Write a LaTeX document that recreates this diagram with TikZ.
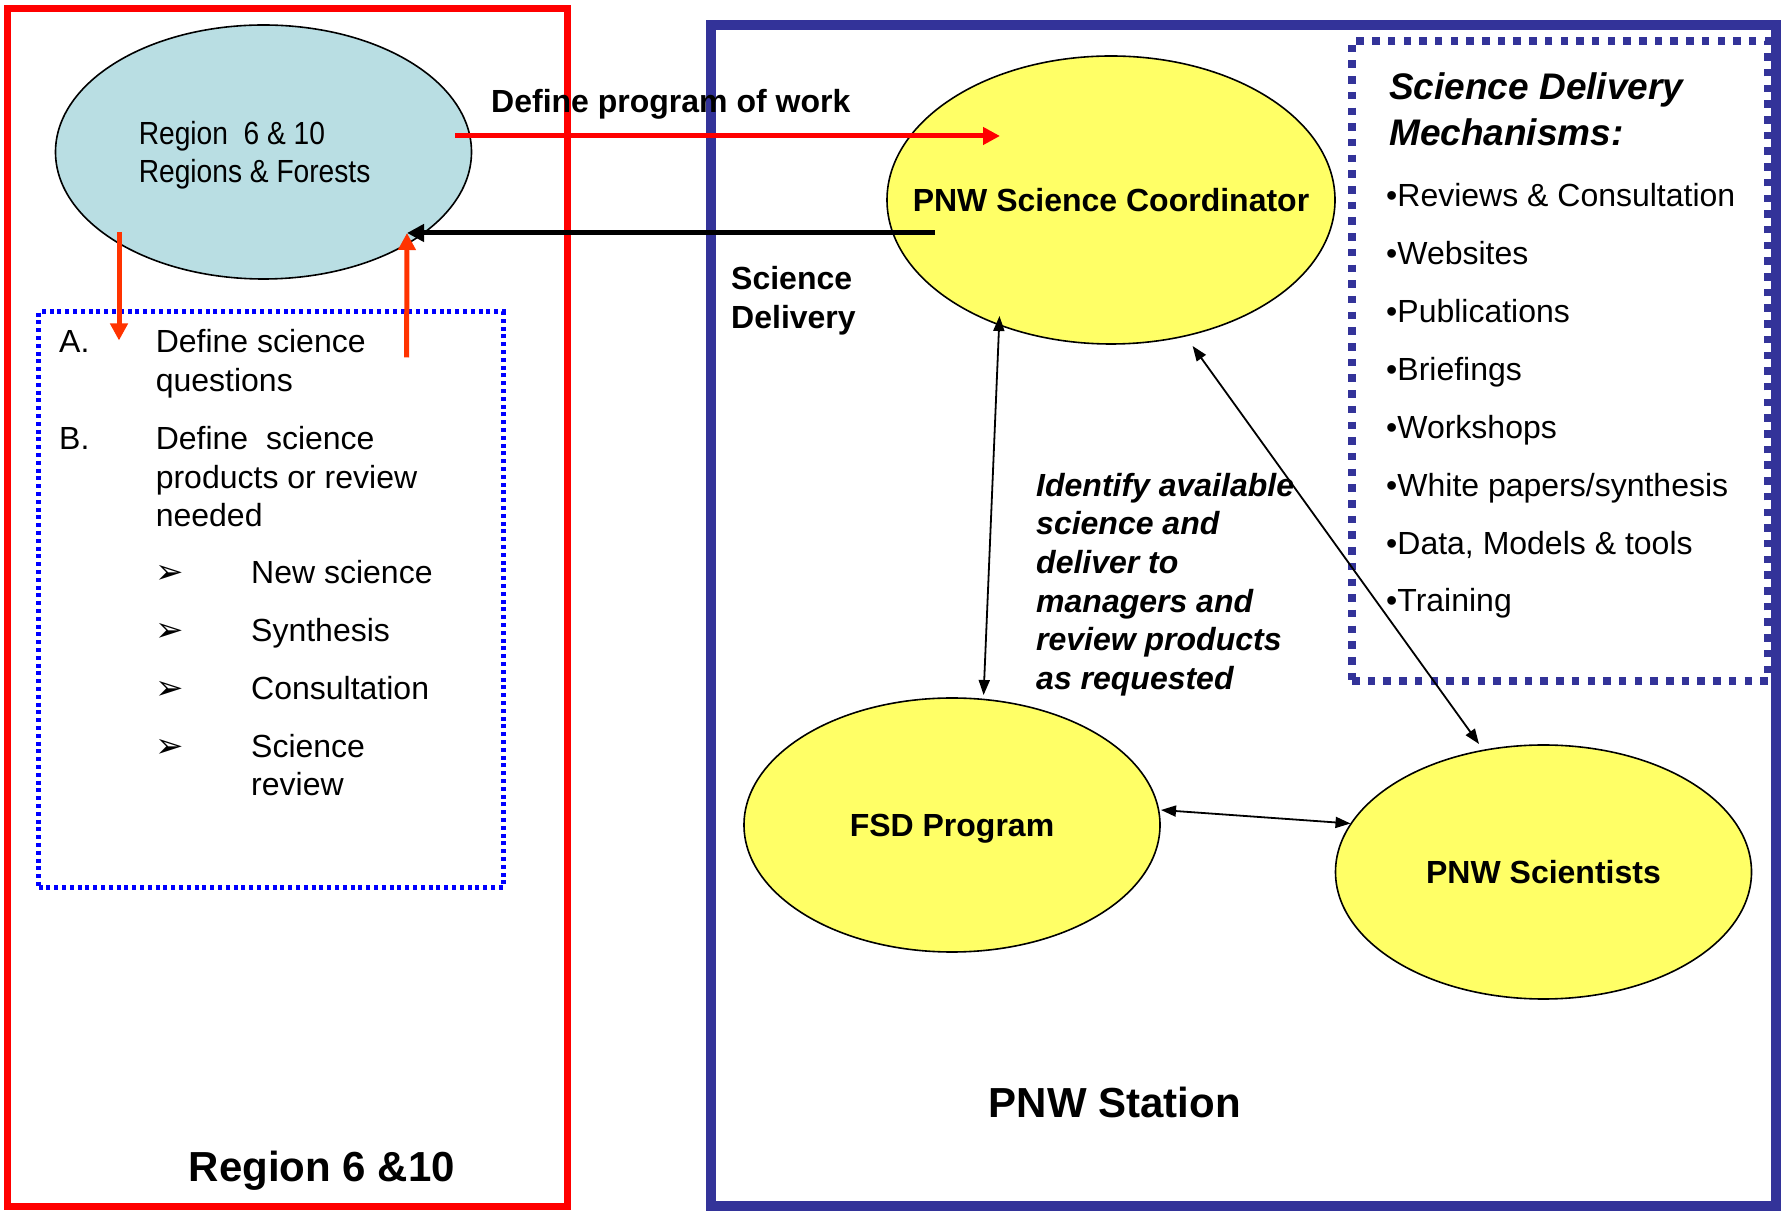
\documentclass[tikz,border=0pt]{standalone}
\usepackage{fontspec}
\setmainfont{Liberation Sans}
\newfontfamily\narrowfont[FakeStretch=0.88]{Liberation Sans}
\newfontfamily\symfont{DejaVu Sans}
\usetikzlibrary{shapes.geometric,arrows.meta}
\definecolor{navy}{RGB}{51,51,153}
\definecolor{paleblue}{RGB}{185,222,227}
\definecolor{paleyellow}{RGB}{255,255,102}
\definecolor{flame}{RGB}{255,51,0}
% lines of text, first baseline on the node's base
\newcommand{\stack}[1]{\begin{tabular}[t]{@{}l@{}}#1\end{tabular}}

\begin{document}
\begin{tikzpicture}[
  x=1pt, y=1pt,
  txt/.style={inner sep=0, anchor=base west, font=\fontsize{32}{38.6}\selectfont},
  bold/.style={txt, font=\fontsize{32}{38.4}\selectfont\bfseries},
  title/.style={inner sep=0, anchor=base, font=\fontsize{42}{50}\selectfont\bfseries},
  blob/.style={ellipse, draw=black, line width=1.6, inner sep=0, text depth=0pt,
    minimum width=416, minimum height=254, font=\fontsize{32}{38}\selectfont\bfseries},
  region/.style={blob, fill=paleblue},
  unit/.style={blob, fill=paleyellow},
  dotbox/.style={draw, inner sep=0},
  push/.style={line width=5, -{Triangle[length=17pt,width=17pt]}},
  link/.style={line width=1.8, {Triangle[length=15pt,width=11pt]}-{Triangle[length=15pt,width=11pt]}}
]
\useasboundingbox (0,0) rectangle (1781,1211);

% the two organisations
\draw [red, line width=7] (7.5,4.5) rectangle (567,1202);
\draw [navy, line width=9.5] (711,5) rectangle (1776,1186);
\node [title] (regionname) at (322,30) {Region 6 \&10};
\node [title] (station) at (1114.8,94) {PNW Station};

% region side
\node [region] (region) at (263.5,1059) {};
\node [txt, font=\narrowfont\fontsize{32}{38}\selectfont] (regionlabel) at (138.6,1066)
  {\stack{Region\ \ 6 \& 10\\Regions \& Forests}};
\node [dotbox, draw=blue, line width=5, dash pattern=on 4pt off 3.8pt,
  minimum width=464.4, minimum height=576] (needs) at (270.8,611) {};
\node [txt] (labA) at (59,858) {A.};
\node [txt] (itemA) at (155.6,858) {\stack{Define science\\questions}};
\node [txt] (labB) at (59,761.5) {B.};
\node [txt] (itemB) at (155.6,761.5) {\stack{Define\ \ science\\products or review\\needed}};
\foreach \s [count=\i from 0] in {New science, Synthesis, Consultation, {Science\\review}} {
  \node [txt, font=\symfont\fontsize{34}{40}\selectfont] (tick\i) at (155,{627-57.7*\i}) {➢};
  \node [txt] (sub\i) at (251,{627-57.7*\i}) {\stack{\s}};
}

% station side
\node [unit, minimum width=448, minimum height=288,
  label={[font=\fontsize{32}{38}\selectfont\bfseries]center:PNW Science Coordinator}] (coord) at (1111,1011) {};
\node [unit] (fsd) at (952,386) {FSD Program};
\node [unit] (sci) at (1543.5,339) {PNW Scientists};
\node [dotbox, draw=navy, line width=7.5, dash pattern=on 7.5pt off 8.2pt,
  minimum width=416, minimum height=640] (mechbox) at (1560,850) {};
\node [txt, font=\fontsize{37}{45.4}\selectfont\bfseries\itshape] (mechtitle) at (1389,1111)
  {\stack{Science Delivery\\Mechanisms:}};
\foreach \m [count=\i from 0] in {Reviews \& Consultation, Websites, Publications, Briefings,
  Workshops, White papers/synthesis, {Data, Models \& tools}, Training}
  \node [txt] (mech\i) at (1386,{1004.3-57.9*\i}) {\textbullet\m};
\node [txt, font=\fontsize{32}{38.6}\selectfont\bfseries\itshape] (task) at (1036,714.7)
  {\stack{Identify available\\science and\\deliver to\\managers and\\review products\\as requested}};

% flows between them
\node [bold] (deflabel) at (491,1098) {Define program of work};
\node [bold] (dellabel) at (731,921) {\stack{Science\\Delivery}};
\draw [push, red] ([shift={(191.5,16)}]region.center) -- ([shift={(-111,64)}]coord.center);
\draw [push, black] ([shift={(-176,-33)}]coord.center) -- ([shift={(143.5,-81)}]region.center);
\draw [push, flame] ([shift={(-144.5,-80)}]region.center) -- ([shift={(-151.8,-31)}]needs.north);
\draw [push, flame] ([shift={(135.8,-48)}]needs.north) -- ([shift={(143.5,-81)}]region.center);
\draw [link] ([shift={(-111.5,-116)}]coord.center) -- ([shift={(31.6,130)}]fsd.center);
\draw [link] ([shift={(81.6,-146)}]coord.center) -- ([shift={(-64.5,128)}]sci.center);
\draw [link] ([shift={(209,15)}]fsd.center) -- ([shift={(-193,48.5)}]sci.center);
\end{tikzpicture}
\end{document}
